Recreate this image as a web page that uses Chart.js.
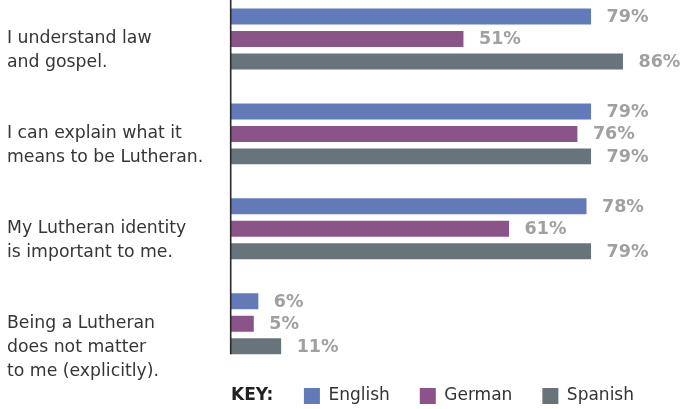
<!DOCTYPE html>
<html>
<head>
<meta charset="utf-8">
<script src="https://cdn.jsdelivr.net/npm/chart.js@4"></script>
<style>
  html, body { margin: 0; padding: 0; background: #fff; }
  #wrap { width: 681px; height: 409px; position: relative; }
</style>
</head>
<body>
<div id="wrap"><canvas id="grafica"></canvas></div>
<script>
// Preguntas (una por grupo de barras)
const categories = [
  ['I understand law', 'and gospel.'],
  ['I can explain what it', 'means to be Lutheran.'],
  ['My Lutheran identity', 'is important to me.'],
  ['Being a Lutheran', 'does not matter', 'to me (explicitly).']
];

// Porcentajes por idioma
const english = [79, 79, 78, 6];
const german = [51, 76, 61, 5];
const spanish = [86, 79, 79, 11];

const seriesNames = ['English', 'German', 'Spanish'];
const seriesColors = ['#637ab8', '#8a5488', '#68747a'];

Chart.defaults.font.family = '"DejaVu Sans", sans-serif';

function toPoints(values) {
  return values.map((v, i) => ({ x: v, y: i }));
}

const datasets = [english, german, spanish].map((values, k) => ({
  label: seriesNames[k],
  data: toPoints(values),
  backgroundColor: seriesColors[k],
  borderWidth: 0,
  barPercentage: 0.711,
  categoryPercentage: 0.7105
}));

// Etiqueta de porcentaje a la derecha de cada barra
const valueLabels = {
  id: 'valueLabels',
  afterDatasetsDraw(chart) {
    const ctx = chart.ctx;
    ctx.save();
    ctx.font = 'bold 17.5px "DejaVu Sans", sans-serif';
    ctx.fillStyle = '#a0a0a0';
    ctx.textAlign = 'left';
    ctx.textBaseline = 'middle';
    chart.data.datasets.forEach((ds, d) => {
      chart.getDatasetMeta(d).data.forEach((bar, i) => {
        ctx.fillText(ds.data[i].x + '%', bar.x + 15.5, bar.y + 1);
      });
    });
    ctx.restore();
  }
};

// Linea del eje vertical, hasta el final de la ultima barra
const axisLine = {
  id: 'axisLine',
  afterDatasetsDraw(chart) {
    const ctx = chart.ctx;
    const last = chart.getDatasetMeta(chart.data.datasets.length - 1).data;
    const bar = last[last.length - 1];
    const x = chart.chartArea.left;
    ctx.save();
    ctx.strokeStyle = '#2a2a2a';
    ctx.lineWidth = 1.6;
    ctx.beginPath();
    ctx.moveTo(x - 0.3, chart.chartArea.top);
    ctx.lineTo(x - 0.3, bar.y + bar.height / 2);
    ctx.stroke();
    ctx.restore();
  }
};

// Texto "KEY:" delante de la leyenda
const keyTitle = {
  id: 'keyTitle',
  afterDraw(chart) {
    const hb = chart.legend.legendHitBoxes[0];
    const ctx = chart.ctx;
    ctx.save();
    ctx.font = 'bold 17px "DejaVu Sans", sans-serif';
    ctx.fillStyle = '#222';
    ctx.textAlign = 'left';
    ctx.textBaseline = 'middle';
    ctx.fillText('KEY:', chart.chartArea.left, hb.top + hb.height / 2);
    ctx.restore();
  }
};

new Chart(document.getElementById('grafica'), {
  type: 'bar',
  data: { datasets },
  options: {
    responsive: true,
    maintainAspectRatio: false,
    animation: false,
    indexAxis: 'y',
    layout: { padding: { left: 7, right: 17, top: 0, bottom: 0 } },
    scales: {
      x: {
        type: 'linear',
        min: 0,
        max: 95,
        display: false
      },
      y: {
        type: 'linear',
        min: -0.41,
        max: 3.355,
        offset: false,
        reverse: true,
        grid: { display: false },
        border: { display: false },
        afterBuildTicks: scale => {
          scale.ticks = categories.map((_, i) => ({ value: i }));
        },
        afterFit: scale => {
          scale.width = 224;
          // las etiquetas de varias lineas no deben encoger el area
          scale.paddingTop = 0;
          scale.paddingBottom = 0;
        },
        ticks: {
          autoSkip: false,
          crossAlign: 'far',
          color: '#363636',
          font: { size: 17.3, lineHeight: 1.39 },
          // la primera linea queda centrada en el grupo
          callback: value => {
            const lines = categories[value];
            return Array(lines.length - 1).fill('').concat(lines);
          }
        }
      }
    },
    plugins: {
      legend: {
        position: 'bottom',
        align: 'end',
        maxHeight: 51.5,
        labels: {
          boxWidth: 16,
          boxHeight: 16,
          padding: 30,
          color: '#333',
          font: { size: 17 }
        }
      },
      tooltip: { enabled: false }
    }
  },
  plugins: [valueLabels, axisLine, keyTitle]
});
</script>
</body>
</html>
